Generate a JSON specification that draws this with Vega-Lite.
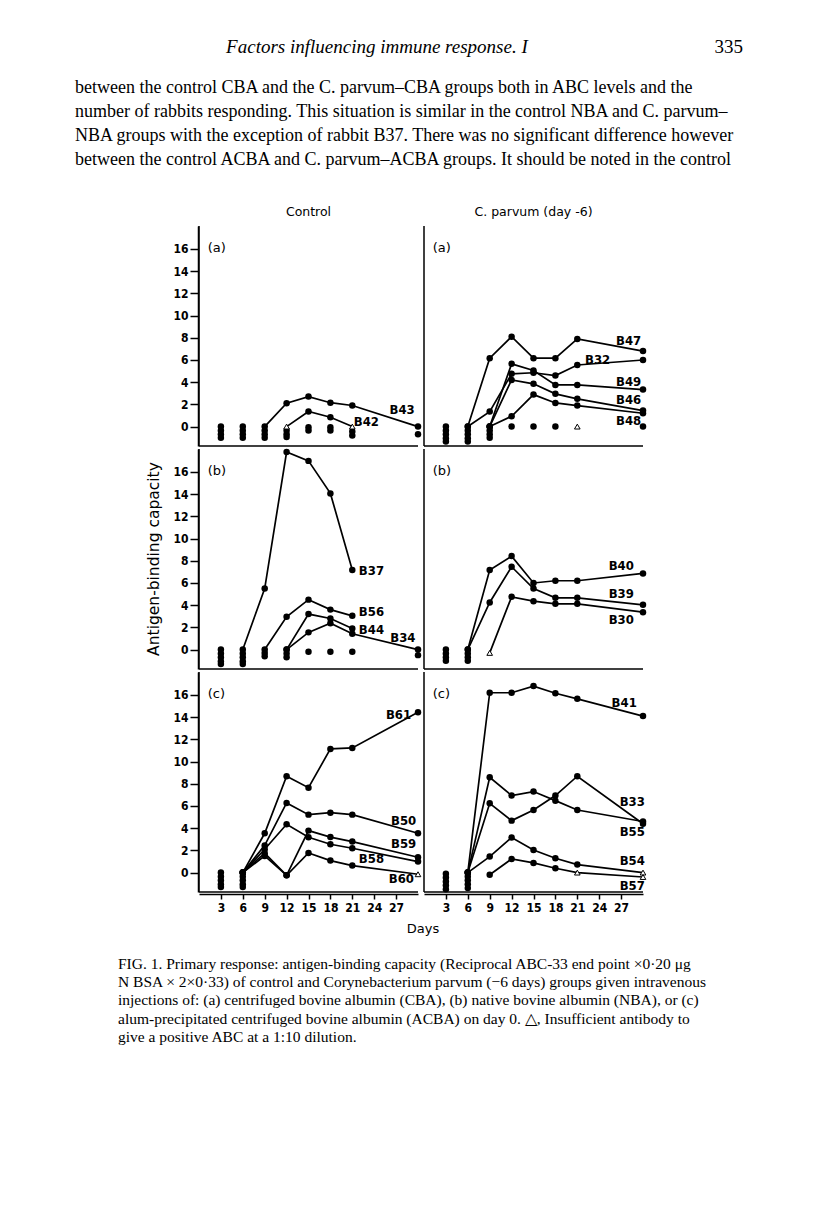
{
"$schema":"https://vega.github.io/schema/vega-lite/v6.json",
"padding":{"left":75,"top":28,"right":0,"bottom":0},
"background":"white",
"spacing":20,
"vconcat":[
{
"width":544,"height":157,
"data":{"values":[
{"k":"rh","t":"Factors influencing immune response. I"},
{"k":"pg","t":"335"},
{"line":1,"t":"between the control CBA and the C. parvum–CBA groups both in ABC levels and the"},
{"line":2,"t":"number of rabbits responding. This situation is similar in the control NBA and C. parvum–"},
{"line":3,"t":"NBA groups with the exception of rabbit B37. There was no significant difference however"},
{"line":4,"t":"between the control ACBA and C. parvum–ACBA groups. It should be noted in the control"}
]},
"layer":[
{"transform":[{"filter":"datum.line"}],
 "mark":{"type":"text","align":"left","baseline":"middle","font":"Liberation Serif","fontSize":18,"color":"black"},
 "encoding":{"x":{"datum":0,"type":"quantitative","scale":{"domain":[0,1],"range":[-124,544],"nice":false},"axis":null},
  "y":{"field":"line","type":"quantitative","scale":{"domain":[-1.5,5.04],"reverse":true,"nice":false,"zero":false},"axis":null},
  "text":{"field":"t"}}},
{"transform":[{"filter":"datum.k=='rh'"}],
 "mark":{"type":"text","align":"center","baseline":"middle","font":"Liberation Serif","fontStyle":"italic","fontSize":19,"color":"black"},
 "encoding":{"x":{"datum":0.452,"type":"quantitative"},"y":{"datum":-0.7,"type":"quantitative"},"text":{"field":"t"}}},
{"transform":[{"filter":"datum.k=='pg'"}],
 "mark":{"type":"text","align":"right","baseline":"middle","font":"Liberation Serif","fontSize":19,"color":"black"},
 "encoding":{"x":{"datum":1,"type":"quantitative"},"y":{"datum":-0.7,"type":"quantitative"},"text":{"field":"t"}}}
]
},
{
"data":{"values":[
{"c":"L","r":"a","k":"panel","t":"(a)"},
{"c":"R","r":"a","k":"panel","t":"(a)"},
{"c":"L","r":"b","k":"panel","t":"(b)"},
{"c":"R","r":"b","k":"panel","t":"(b)"},
{"c":"L","r":"c","k":"panel","t":"(c)"},
{"c":"R","r":"c","k":"panel","t":"(c)"},

{"c":"L","r":"a","d":3,"v":0,"s":"d"},{"c":"L","r":"a","d":3,"v":-0.35,"s":"d"},{"c":"L","r":"a","d":3,"v":-0.7,"s":"d"},{"c":"L","r":"a","d":3,"v":-1.0,"s":"d"},
{"c":"L","r":"a","d":6,"v":0,"s":"d"},{"c":"L","r":"a","d":6,"v":-0.35,"s":"d"},{"c":"L","r":"a","d":6,"v":-0.7,"s":"d"},{"c":"L","r":"a","d":6,"v":-1.0,"s":"d"},
{"c":"L","r":"a","d":9,"v":-0.35,"s":"d"},{"c":"L","r":"a","d":9,"v":-0.7,"s":"d"},{"c":"L","r":"a","d":9,"v":-1.0,"s":"d"},
{"c":"L","r":"a","d":12,"v":-0.35,"s":"d"},{"c":"L","r":"a","d":12,"v":-0.7,"s":"d"},{"c":"L","r":"a","d":12,"v":-0.95,"s":"d"},
{"c":"L","r":"a","d":15,"v":-0.05,"s":"d"},{"c":"L","r":"a","d":15,"v":-0.35,"s":"d"},
{"c":"L","r":"a","d":18,"v":-0.05,"s":"d"},{"c":"L","r":"a","d":18,"v":-0.35,"s":"d"},
{"c":"L","r":"a","d":21,"v":-0.45,"s":"d"},{"c":"L","r":"a","d":21,"v":-0.8,"s":"d"},
{"c":"L","r":"a","d":30,"v":-0.7,"s":"d"},
{"c":"L","r":"a","id":"B43","d":9,"v":0,"s":"d"},{"c":"L","r":"a","id":"B43","d":12,"v":2.1,"s":"d"},{"c":"L","r":"a","id":"B43","d":15,"v":2.7,"s":"d"},{"c":"L","r":"a","id":"B43","d":18,"v":2.15,"s":"d"},{"c":"L","r":"a","id":"B43","d":21,"v":1.9,"s":"d"},{"c":"L","r":"a","id":"B43","d":30,"v":0,"s":"d"},
{"c":"L","r":"a","id":"B42","d":12,"v":0,"s":"t"},{"c":"L","r":"a","id":"B42","d":15,"v":1.36,"s":"d"},{"c":"L","r":"a","id":"B42","d":18,"v":0.84,"s":"d"},{"c":"L","r":"a","id":"B42","d":21,"v":0,"s":"t"},
{"c":"L","r":"a","k":"lab","t":"B43","d":26.1,"v":1.53},
{"c":"L","r":"a","k":"lab","t":"B42","d":21.2,"v":0.45},

{"c":"R","r":"a","d":3,"v":0,"s":"d"},{"c":"R","r":"a","d":3,"v":-0.35,"s":"d"},{"c":"R","r":"a","d":3,"v":-0.7,"s":"d"},{"c":"R","r":"a","d":3,"v":-1.05,"s":"d"},{"c":"R","r":"a","d":3,"v":-1.35,"s":"d"},
{"c":"R","r":"a","d":6,"v":-0.35,"s":"d"},{"c":"R","r":"a","d":6,"v":-0.7,"s":"d"},{"c":"R","r":"a","d":6,"v":-1.05,"s":"d"},{"c":"R","r":"a","d":6,"v":-1.35,"s":"d"},
{"c":"R","r":"a","d":9,"v":-0.35,"s":"d"},{"c":"R","r":"a","d":9,"v":-0.7,"s":"d"},{"c":"R","r":"a","d":9,"v":-1.0,"s":"d"},
{"c":"R","r":"a","d":12,"v":0,"s":"d"},{"c":"R","r":"a","d":15,"v":0,"s":"d"},{"c":"R","r":"a","d":18,"v":0,"s":"d"},{"c":"R","r":"a","d":21,"v":0,"s":"t"},{"c":"R","r":"a","d":30,"v":0,"s":"d"},
{"c":"R","r":"a","id":"B47","d":6,"v":0,"s":"d"},{"c":"R","r":"a","id":"B47","d":9,"v":6.16,"s":"d"},{"c":"R","r":"a","id":"B47","d":12,"v":8.1,"s":"d"},{"c":"R","r":"a","id":"B47","d":15,"v":6.16,"s":"d"},{"c":"R","r":"a","id":"B47","d":18,"v":6.16,"s":"d"},{"c":"R","r":"a","id":"B47","d":21,"v":7.9,"s":"d"},{"c":"R","r":"a","id":"B47","d":30,"v":6.8,"s":"d"},
{"c":"R","r":"a","id":"B32","d":6,"v":0,"s":"d"},{"c":"R","r":"a","id":"B32","d":9,"v":1.35,"s":"d"},{"c":"R","r":"a","id":"B32","d":12,"v":4.75,"s":"d"},{"c":"R","r":"a","id":"B32","d":15,"v":4.85,"s":"d"},{"c":"R","r":"a","id":"B32","d":18,"v":4.6,"s":"d"},{"c":"R","r":"a","id":"B32","d":21,"v":5.55,"s":"d"},{"c":"R","r":"a","id":"B32","d":30,"v":6.0,"s":"d"},
{"c":"R","r":"a","id":"B49","d":9,"v":0,"s":"d"},{"c":"R","r":"a","id":"B49","d":12,"v":5.65,"s":"d"},{"c":"R","r":"a","id":"B49","d":15,"v":5.05,"s":"d"},{"c":"R","r":"a","id":"B49","d":18,"v":3.75,"s":"d"},{"c":"R","r":"a","id":"B49","d":21,"v":3.75,"s":"d"},{"c":"R","r":"a","id":"B49","d":30,"v":3.33,"s":"d"},
{"c":"R","r":"a","id":"B46","d":9,"v":0,"s":"d"},{"c":"R","r":"a","id":"B46","d":12,"v":4.2,"s":"d"},{"c":"R","r":"a","id":"B46","d":15,"v":3.85,"s":"d"},{"c":"R","r":"a","id":"B46","d":18,"v":2.95,"s":"d"},{"c":"R","r":"a","id":"B46","d":21,"v":2.5,"s":"d"},{"c":"R","r":"a","id":"B46","d":30,"v":1.44,"s":"d"},
{"c":"R","r":"a","id":"B4x","d":9,"v":0,"s":"d"},{"c":"R","r":"a","id":"B4x","d":12,"v":0.93,"s":"d"},{"c":"R","r":"a","id":"B4x","d":15,"v":2.88,"s":"d"},{"c":"R","r":"a","id":"B4x","d":18,"v":2.13,"s":"d"},{"c":"R","r":"a","id":"B4x","d":21,"v":1.89,"s":"d"},{"c":"R","r":"a","id":"B4x","d":30,"v":1.2,"s":"d"},
{"c":"R","r":"a","k":"lab","t":"B47","d":26.3,"v":7.75},
{"c":"R","r":"a","k":"lab","t":"B32","d":22.05,"v":6.0},
{"c":"R","r":"a","k":"lab","t":"B49","d":26.3,"v":4.05},
{"c":"R","r":"a","k":"lab","t":"B46","d":26.3,"v":2.4},
{"c":"R","r":"a","k":"lab","t":"B48","d":26.3,"v":0.54},

{"c":"L","r":"b","d":3,"v":0,"s":"d"},{"c":"L","r":"b","d":3,"v":-0.35,"s":"d"},{"c":"L","r":"b","d":3,"v":-0.7,"s":"d"},{"c":"L","r":"b","d":3,"v":-1.05,"s":"d"},{"c":"L","r":"b","d":3,"v":-1.3,"s":"d"},
{"c":"L","r":"b","d":6,"v":-0.35,"s":"d"},{"c":"L","r":"b","d":6,"v":-0.7,"s":"d"},{"c":"L","r":"b","d":6,"v":-1.05,"s":"d"},{"c":"L","r":"b","d":6,"v":-1.3,"s":"d"},
{"c":"L","r":"b","d":9,"v":-0.3,"s":"d"},{"c":"L","r":"b","d":9,"v":-0.6,"s":"d"},
{"c":"L","r":"b","d":12,"v":-0.35,"s":"d"},{"c":"L","r":"b","d":12,"v":-0.7,"s":"d"},
{"c":"L","r":"b","d":15,"v":-0.2,"s":"d"},{"c":"L","r":"b","d":18,"v":-0.2,"s":"d"},{"c":"L","r":"b","d":21,"v":-0.2,"s":"d"},
{"c":"L","r":"b","d":30,"v":-0.5,"s":"d"},
{"c":"L","r":"b","id":"B37","d":6,"v":0,"s":"d"},{"c":"L","r":"b","id":"B37","d":9,"v":5.5,"s":"d"},{"c":"L","r":"b","id":"B37","d":12,"v":17.8,"s":"d"},{"c":"L","r":"b","id":"B37","d":15,"v":17.0,"s":"d"},{"c":"L","r":"b","id":"B37","d":18,"v":14.07,"s":"d"},{"c":"L","r":"b","id":"B37","d":21,"v":7.16,"s":"d"},
{"c":"L","r":"b","id":"B56","d":9,"v":0,"s":"d"},{"c":"L","r":"b","id":"B56","d":12,"v":2.95,"s":"d"},{"c":"L","r":"b","id":"B56","d":15,"v":4.5,"s":"d"},{"c":"L","r":"b","id":"B56","d":18,"v":3.6,"s":"d"},{"c":"L","r":"b","id":"B56","d":21,"v":3.04,"s":"d"},
{"c":"L","r":"b","id":"B44","d":12,"v":0,"s":"d"},{"c":"L","r":"b","id":"B44","d":15,"v":3.2,"s":"d"},{"c":"L","r":"b","id":"B44","d":18,"v":2.8,"s":"d"},{"c":"L","r":"b","id":"B44","d":21,"v":1.9,"s":"d"},
{"c":"L","r":"b","id":"B34","d":12,"v":0,"s":"d"},{"c":"L","r":"b","id":"B34","d":15,"v":1.55,"s":"d"},{"c":"L","r":"b","id":"B34","d":18,"v":2.38,"s":"d"},{"c":"L","r":"b","id":"B34","d":21,"v":1.42,"s":"d"},{"c":"L","r":"b","id":"B34","d":30,"v":0,"s":"d"},
{"c":"L","r":"b","k":"lab","t":"B37","d":21.9,"v":7.1},
{"c":"L","r":"b","k":"lab","t":"B56","d":21.9,"v":3.4},
{"c":"L","r":"b","k":"lab","t":"B44","d":21.9,"v":1.8},
{"c":"L","r":"b","k":"lab","t":"B34","d":26.2,"v":1.0},

{"c":"R","r":"b","d":3,"v":0,"s":"d"},{"c":"R","r":"b","d":3,"v":-0.35,"s":"d"},{"c":"R","r":"b","d":3,"v":-0.7,"s":"d"},{"c":"R","r":"b","d":3,"v":-1.0,"s":"d"},
{"c":"R","r":"b","d":6,"v":-0.35,"s":"d"},{"c":"R","r":"b","d":6,"v":-0.7,"s":"d"},{"c":"R","r":"b","d":6,"v":-1.0,"s":"d"},
{"c":"R","r":"b","id":"B40","d":6,"v":0,"s":"d"},{"c":"R","r":"b","id":"B40","d":9,"v":7.16,"s":"d"},{"c":"R","r":"b","id":"B40","d":12,"v":8.42,"s":"d"},{"c":"R","r":"b","id":"B40","d":15,"v":6.0,"s":"d"},{"c":"R","r":"b","id":"B40","d":18,"v":6.2,"s":"d"},{"c":"R","r":"b","id":"B40","d":21,"v":6.2,"s":"d"},{"c":"R","r":"b","id":"B40","d":30,"v":6.86,"s":"d"},
{"c":"R","r":"b","id":"B39","d":6,"v":0,"s":"d"},{"c":"R","r":"b","id":"B39","d":9,"v":4.24,"s":"d"},{"c":"R","r":"b","id":"B39","d":12,"v":7.46,"s":"d"},{"c":"R","r":"b","id":"B39","d":15,"v":5.5,"s":"d"},{"c":"R","r":"b","id":"B39","d":18,"v":4.66,"s":"d"},{"c":"R","r":"b","id":"B39","d":21,"v":4.66,"s":"d"},{"c":"R","r":"b","id":"B39","d":30,"v":4.03,"s":"d"},
{"c":"R","r":"b","id":"B30","d":9,"v":-0.3,"s":"t"},{"c":"R","r":"b","id":"B30","d":12,"v":4.75,"s":"d"},{"c":"R","r":"b","id":"B30","d":15,"v":4.36,"s":"d"},{"c":"R","r":"b","id":"B30","d":18,"v":4.12,"s":"d"},{"c":"R","r":"b","id":"B30","d":21,"v":4.12,"s":"d"},{"c":"R","r":"b","id":"B30","d":30,"v":3.37,"s":"d"},
{"c":"R","r":"b","k":"lab","t":"B40","d":25.3,"v":7.5},
{"c":"R","r":"b","k":"lab","t":"B39","d":25.3,"v":5.0},
{"c":"R","r":"b","k":"lab","t":"B30","d":25.3,"v":2.65},

{"c":"L","r":"c","d":3,"v":0,"s":"d"},{"c":"L","r":"c","d":3,"v":-0.35,"s":"d"},{"c":"L","r":"c","d":3,"v":-0.7,"s":"d"},{"c":"L","r":"c","d":3,"v":-1.05,"s":"d"},{"c":"L","r":"c","d":3,"v":-1.3,"s":"d"},
{"c":"L","r":"c","d":6,"v":-0.35,"s":"d"},{"c":"L","r":"c","d":6,"v":-0.7,"s":"d"},{"c":"L","r":"c","d":6,"v":-1.05,"s":"d"},{"c":"L","r":"c","d":6,"v":-1.3,"s":"d"},
{"c":"L","r":"c","id":"B61","d":6,"v":0,"s":"d"},{"c":"L","r":"c","id":"B61","d":9,"v":3.54,"s":"d"},{"c":"L","r":"c","id":"B61","d":12,"v":8.68,"s":"d"},{"c":"L","r":"c","id":"B61","d":15,"v":7.65,"s":"d"},{"c":"L","r":"c","id":"B61","d":18,"v":11.14,"s":"d"},{"c":"L","r":"c","id":"B61","d":21,"v":11.23,"s":"d"},{"c":"L","r":"c","id":"B61","d":30,"v":14.44,"s":"d"},
{"c":"L","r":"c","id":"B50","d":6,"v":0,"s":"d"},{"c":"L","r":"c","id":"B50","d":9,"v":2.45,"s":"d"},{"c":"L","r":"c","id":"B50","d":12,"v":6.27,"s":"d"},{"c":"L","r":"c","id":"B50","d":15,"v":5.22,"s":"d"},{"c":"L","r":"c","id":"B50","d":18,"v":5.4,"s":"d"},{"c":"L","r":"c","id":"B50","d":21,"v":5.22,"s":"d"},{"c":"L","r":"c","id":"B50","d":30,"v":3.54,"s":"d"},
{"c":"L","r":"c","id":"B58","d":6,"v":0,"s":"d"},{"c":"L","r":"c","id":"B58","d":9,"v":2.1,"s":"d"},{"c":"L","r":"c","id":"B58","d":12,"v":4.35,"s":"d"},{"c":"L","r":"c","id":"B58","d":15,"v":3.18,"s":"d"},{"c":"L","r":"c","id":"B58","d":18,"v":2.55,"s":"d"},{"c":"L","r":"c","id":"B58","d":21,"v":2.19,"s":"d"},{"c":"L","r":"c","id":"B58","d":30,"v":0.99,"s":"d"},
{"c":"L","r":"c","id":"B59","d":6,"v":0,"s":"d"},{"c":"L","r":"c","id":"B59","d":9,"v":1.75,"s":"d"},{"c":"L","r":"c","id":"B59","d":12,"v":-0.25,"s":"d"},{"c":"L","r":"c","id":"B59","d":15,"v":3.78,"s":"d"},{"c":"L","r":"c","id":"B59","d":18,"v":3.2,"s":"d"},{"c":"L","r":"c","id":"B59","d":21,"v":2.79,"s":"d"},{"c":"L","r":"c","id":"B59","d":30,"v":1.38,"s":"d"},
{"c":"L","r":"c","id":"B60","d":6,"v":0,"s":"d"},{"c":"L","r":"c","id":"B60","d":9,"v":1.5,"s":"d"},{"c":"L","r":"c","id":"B60","d":12,"v":-0.25,"s":"d"},{"c":"L","r":"c","id":"B60","d":15,"v":1.77,"s":"d"},{"c":"L","r":"c","id":"B60","d":18,"v":1.08,"s":"d"},{"c":"L","r":"c","id":"B60","d":21,"v":0.63,"s":"d"},{"c":"L","r":"c","id":"B60","d":30,"v":-0.15,"s":"t"},
{"c":"L","r":"c","k":"lab","t":"B61","d":25.6,"v":14.2},
{"c":"L","r":"c","k":"lab","t":"B50","d":26.3,"v":4.68},
{"c":"L","r":"c","k":"lab","t":"B59","d":26.3,"v":2.58},
{"c":"L","r":"c","k":"lab","t":"B58","d":21.9,"v":1.23},
{"c":"L","r":"c","k":"lab","t":"B60","d":26.0,"v":-0.58},

{"c":"R","r":"c","d":3,"v":-0.1,"s":"d"},{"c":"R","r":"c","d":3,"v":-0.45,"s":"d"},{"c":"R","r":"c","d":3,"v":-0.8,"s":"d"},{"c":"R","r":"c","d":3,"v":-1.15,"s":"d"},{"c":"R","r":"c","d":3,"v":-1.5,"s":"d"},
{"c":"R","r":"c","d":6,"v":-0.35,"s":"d"},{"c":"R","r":"c","d":6,"v":-0.7,"s":"d"},{"c":"R","r":"c","d":6,"v":-1.05,"s":"d"},{"c":"R","r":"c","d":6,"v":-1.4,"s":"d"},
{"c":"R","r":"c","id":"B41","d":6,"v":0,"s":"d"},{"c":"R","r":"c","id":"B41","d":9,"v":16.2,"s":"d"},{"c":"R","r":"c","id":"B41","d":12,"v":16.2,"s":"d"},{"c":"R","r":"c","id":"B41","d":15,"v":16.8,"s":"d"},{"c":"R","r":"c","id":"B41","d":18,"v":16.16,"s":"d"},{"c":"R","r":"c","id":"B41","d":21,"v":15.65,"s":"d"},{"c":"R","r":"c","id":"B41","d":30,"v":14.1,"s":"d"},
{"c":"R","r":"c","id":"B55","d":6,"v":0,"s":"d"},{"c":"R","r":"c","id":"B55","d":9,"v":8.59,"s":"d"},{"c":"R","r":"c","id":"B55","d":12,"v":6.94,"s":"d"},{"c":"R","r":"c","id":"B55","d":15,"v":7.3,"s":"d"},{"c":"R","r":"c","id":"B55","d":18,"v":6.48,"s":"d"},{"c":"R","r":"c","id":"B55","d":21,"v":5.64,"s":"d"},{"c":"R","r":"c","id":"B55","d":30,"v":4.6,"s":"d"},
{"c":"R","r":"c","id":"B33","d":6,"v":0,"s":"d"},{"c":"R","r":"c","id":"B33","d":9,"v":6.24,"s":"d"},{"c":"R","r":"c","id":"B33","d":12,"v":4.68,"s":"d"},{"c":"R","r":"c","id":"B33","d":15,"v":5.64,"s":"d"},{"c":"R","r":"c","id":"B33","d":18,"v":6.94,"s":"d"},{"c":"R","r":"c","id":"B33","d":21,"v":8.68,"s":"d"},{"c":"R","r":"c","id":"B33","d":30,"v":4.4,"s":"d"},
{"c":"R","r":"c","id":"B54","d":6,"v":0,"s":"d"},{"c":"R","r":"c","id":"B54","d":9,"v":1.44,"s":"d"},{"c":"R","r":"c","id":"B54","d":12,"v":3.15,"s":"d"},{"c":"R","r":"c","id":"B54","d":15,"v":2.04,"s":"d"},{"c":"R","r":"c","id":"B54","d":18,"v":1.29,"s":"d"},{"c":"R","r":"c","id":"B54","d":21,"v":0.72,"s":"d"},{"c":"R","r":"c","id":"B54","d":30,"v":0,"s":"t"},
{"c":"R","r":"c","id":"B57","d":9,"v":-0.2,"s":"d"},{"c":"R","r":"c","id":"B57","d":12,"v":1.23,"s":"d"},{"c":"R","r":"c","id":"B57","d":15,"v":0.87,"s":"d"},{"c":"R","r":"c","id":"B57","d":18,"v":0.39,"s":"d"},{"c":"R","r":"c","id":"B57","d":21,"v":0,"s":"t"},{"c":"R","r":"c","id":"B57","d":30,"v":-0.4,"s":"t"},
{"c":"R","r":"c","k":"lab","t":"B41","d":25.7,"v":15.3},
{"c":"R","r":"c","k":"lab","t":"B33","d":26.8,"v":6.4},
{"c":"R","r":"c","k":"lab","t":"B55","d":26.8,"v":3.63},
{"c":"R","r":"c","k":"lab","t":"B54","d":26.8,"v":1.08},
{"c":"R","r":"c","k":"lab","t":"B57","d":26.8,"v":-1.23}
]},
"facet":{
 "row":{"field":"r","type":"nominal","header":{"labels":false,"title":"Antigen-binding capacity","titleOrient":"left","titleFont":"DejaVu Sans","titleFontSize":15.5,"titleFontWeight":"normal","titleColor":"black","titlePadding":0}},
 "column":{"field":"c","type":"nominal","header":{"title":"Days","titleOrient":"bottom","titleFont":"DejaVu Sans","titleFontSize":13,"titleFontWeight":"normal","titleColor":"black","titlePadding":0,"labelOrient":"top","labelExpr":"datum.value == 'L' ? 'Control' : 'C. parvum  (day -6)'","labelFont":"DejaVu Sans","labelFontSize":12.5,"labelColor":"black","labelPadding":7}}
},
"spacing":{"row":0,"column":0},
"spec":{
 "width":219,"height":220,
 "layer":[
 {"transform":[{"filter":"datum.id && !datum.k"}],
  "mark":{"type":"line","color":"black","strokeWidth":1.7},
  "encoding":{
   "x":{"field":"d","type":"quantitative","title":null,"scale":{"domain":[0,30],"nice":false,"zero":false},"axis":{"values":[3,6,9,12,15,18,21,24,27],"labelOverlap":false}},
   "y":{"field":"v","type":"quantitative","title":null,"scale":{"domain":[-1.75,18.07],"nice":false,"zero":false},"axis":{"values":[0,2,4,6,8,10,12,14,16],"labelOverlap":false}},
   "detail":{"field":"id"},
   "order":{"field":"d","type":"quantitative"}}},
 {"transform":[{"filter":"datum.k=='panel'"}],
  "mark":{"type":"rule","color":"black","strokeWidth":1.5},
  "encoding":{"x":{"datum":0,"type":"quantitative","title":null,"axis":{"values":[3,6,9,12,15,18,21,24,27],"labelOverlap":false}}}},
 {"transform":[{"filter":"datum.k=='panel'"}],
  "mark":{"type":"rule","color":"black","strokeWidth":1.5},
  "encoding":{"y":{"datum":-1.75,"type":"quantitative","title":null,"axis":{"values":[0,2,4,6,8,10,12,14,16],"labelOverlap":false}}}},
 {"transform":[{"filter":"datum.s=='d'"}],
  "mark":{"type":"point","shape":"circle","filled":true,"color":"black","size":42,"opacity":1},
  "encoding":{
   "x":{"field":"d","type":"quantitative","title":null,"axis":{"values":[3,6,9,12,15,18,21,24,27],"labelOverlap":false}},
   "y":{"field":"v","type":"quantitative","title":null,"axis":{"values":[0,2,4,6,8,10,12,14,16],"labelOverlap":false}}}},
 {"transform":[{"filter":"datum.s=='t'"}],
  "mark":{"type":"point","shape":"triangle-up","filled":true,"fill":"white","stroke":"black","strokeWidth":1,"size":32,"opacity":1},
  "encoding":{
   "x":{"field":"d","type":"quantitative","title":null,"axis":{"values":[3,6,9,12,15,18,21,24,27],"labelOverlap":false}},
   "y":{"field":"v","type":"quantitative","title":null,"axis":{"values":[0,2,4,6,8,10,12,14,16],"labelOverlap":false}}}},
 {"transform":[{"filter":"datum.k=='lab'"}],
  "mark":{"type":"text","align":"left","baseline":"middle","font":"DejaVu Sans Condensed, Liberation Sans Narrow, DejaVu Sans","fontSize":13,"fontWeight":"bold","color":"black"},
  "encoding":{
   "x":{"field":"d","type":"quantitative","title":null,"axis":{"values":[3,6,9,12,15,18,21,24,27],"labelOverlap":false}},
   "y":{"field":"v","type":"quantitative","title":null,"axis":{"values":[0,2,4,6,8,10,12,14,16],"labelOverlap":false}},
   "text":{"field":"t"}}},
 {"transform":[{"filter":"datum.k=='panel'"}],
  "mark":{"type":"text","align":"left","baseline":"middle","font":"DejaVu Sans","fontSize":13,"color":"black"},
  "encoding":{
   "x":{"datum":1.2,"type":"quantitative","title":null,"axis":{"values":[3,6,9,12,15,18,21,24,27],"labelOverlap":false}},
   "y":{"datum":16.1,"type":"quantitative","title":null,"axis":{"values":[0,2,4,6,8,10,12,14,16],"labelOverlap":false}},
   "text":{"field":"t"}}}
 ]
}
},
{
"width":505,"height":90,
"data":{"values":[
{"line":0,"t":"FIG. 1. Primary response: antigen-binding capacity (Reciprocal ABC-33 end point ×0·20 μg"},
{"line":1,"t":"N BSA × 2×0·33) of control and Corynebacterium parvum (−6 days) groups given intravenous"},
{"line":2,"t":"injections of: (a) centrifuged bovine albumin (CBA), (b) native bovine albumin (NBA), or (c)"},
{"line":3,"t":"alum-precipitated centrifuged bovine albumin (ACBA) on day 0. △, Insufficient antibody to"},
{"line":4,"t":"give a positive ABC at a 1:10 dilution."}
]},
"mark":{"type":"text","align":"left","baseline":"middle","font":"Liberation Serif","fontSize":15.5,"color":"black"},
"encoding":{
 "x":{"datum":0,"type":"quantitative","scale":{"domain":[0,1],"range":[-81,505],"nice":false},"axis":null},
 "y":{"field":"line","type":"quantitative","scale":{"domain":[-0.44,4.5],"reverse":true,"nice":false,"zero":false},"axis":null},
 "text":{"field":"t"}}
}
],
"config":{
 "view":{"stroke":null},
 "axis":{"domainColor":"black","tickColor":"black","labelColor":"black","titleColor":"black","grid":false,"domainWidth":1.5,"tickWidth":1.5,"labelFont":"DejaVu Sans Condensed, Liberation Sans Narrow, DejaVu Sans","labelFontSize":12,"labelFontWeight":"bold","titleFont":"DejaVu Sans","titleFontWeight":"normal","titleFontSize":14},
 "axisY":{"tickSize":8,"labelPadding":2},
 "axisX":{"tickSize":5,"labelPadding":3}
}
}
